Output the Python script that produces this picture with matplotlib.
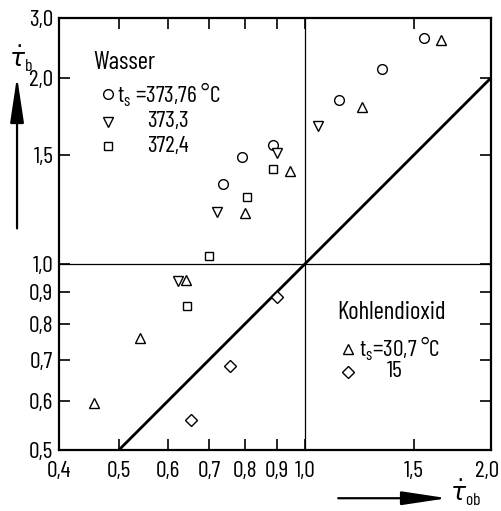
import matplotlib
matplotlib.use("Agg")
import matplotlib.pyplot as plt
import matplotlib.transforms as mtransforms

# Wasser
w_circle_x = [0.736, 0.792, 0.887, 1.137, 1.331, 1.556]
w_circle_y = [1.349, 1.490, 1.560, 1.840, 2.070, 2.320]
w_tridown_x = [0.624, 0.720, 0.902, 1.051]
w_tridown_y = [0.939, 1.212, 1.510, 1.670]
w_square_x = [0.645, 0.700, 0.805, 0.888]
w_square_y = [0.856, 1.030, 1.284, 1.425]

# Kohlendioxid
c_triup_x = [0.455, 0.541, 0.641, 0.800, 0.946, 1.235, 1.659]
c_triup_y = [0.596, 0.760, 0.942, 1.210, 1.415, 1.795, 2.300]
c_diamond_x = [0.654, 0.756, 0.900]
c_diamond_y = [0.559, 0.684, 0.885]

x_ticks = [0.4, 0.5, 0.6, 0.7, 0.8, 0.9, 1.0, 1.5, 2.0]
x_labels = ["0,4", "0,5", "0,6", "0,7", "0,8", "0,9", "1,0", "1,5", "2,0"]
y_ticks = [0.5, 0.6, 0.7, 0.8, 0.9, 1.0, 1.5, 2.0, 2.5]
y_labels = ["0,5", "0,6", "0,7", "0,8", "0,9", "1,0", "1,5", "2,0", "3,0"]

plt.rcParams["font.family"] = ["Barlow Condensed", "DejaVu Sans"]
plt.rcParams["mathtext.fontset"] = "dejavusans"

fig = plt.figure(figsize=(5.01, 5.11), dpi=100)
ax = fig.add_axes([0.1178, 0.1194, 0.8622, 0.8454])
ax.set_xscale("log")
ax.set_yscale("log")
ax.set_xlim(0.4, 2.0)
ax.set_ylim(0.5, 2.5)

ax.axvline(1.0, color="black", lw=0.9)
ax.axhline(1.0, color="black", lw=0.9)
ax.plot([0.5, 2.0], [0.5, 2.0], color="black", lw=2.0)

mk = dict(ls="none", mfc="white", mec="black", mew=1.0)
ax.plot(w_circle_x, w_circle_y, marker="o", ms=7, **mk)
ax.plot(w_tridown_x, w_tridown_y, marker="v", ms=7, **mk)
ax.plot(w_square_x, w_square_y, marker="s", ms=6, **mk)
ax.plot(c_triup_x, c_triup_y, marker="^", ms=7, **mk)
ax.plot(c_diamond_x, c_diamond_y, marker="D", ms=6, **mk)

ax.xaxis.set_minor_locator(matplotlib.ticker.NullLocator())
ax.yaxis.set_minor_locator(matplotlib.ticker.NullLocator())
ax.set_xticks(x_ticks)
ax.set_xticklabels(x_labels, fontsize=17)
ax.set_yticks(y_ticks)
ax.set_yticklabels(y_labels, fontsize=17)
ax.tick_params(direction="in", length=8, width=1.2, top=True, right=True)
ax.tick_params(axis="x", pad=8)
ax.tick_params(axis="y", pad=4)
for s in ax.spines.values():
    s.set_linewidth(1.6)

# keep the last x label inside the picture
last = ax.get_xticklabels()[-1]
last.set_transform(last.get_transform() + mtransforms.ScaledTranslation(-3 / 72, 0, fig.dpi_scale_trans))

# legend texts as drawn in the figure
ax.text(0.454, 2.12, "Wasser", fontsize=18, va="center")
ax.plot([0.48], [1.88], marker="o", ms=7, **mk)
ax.text(0.497, 1.88, r"t$_\mathregular{s}$ =373,76 °C", fontsize=17, va="center")
ax.plot([0.48], [1.70], marker="v", ms=7, **mk)
ax.text(0.555, 1.70, "373,3", fontsize=17, va="center")
ax.plot([0.48], [1.55], marker="s", ms=6, **mk)
ax.text(0.555, 1.55, "372,4", fontsize=17, va="center")

ax.text(1.127, 0.833, "Kohlendioxid", fontsize=18, va="center")
ax.plot([1.172], [0.728], marker="^", ms=7, **mk)
ax.text(1.225, 0.728, r"t$_\mathregular{s}$=30,7 °C", fontsize=17, va="center")
ax.plot([1.172], [0.669], marker="D", ms=6, **mk)
ax.text(1.357, 0.669, "15", fontsize=17, va="center")

# axis labels with arrows
fig.text(0.042, 0.885, r"$\dot{\tau}_\mathregular{b}$", fontsize=18, ha="center", va="center")
fig.text(0.93, 0.035, r"$\dot{\tau}_\mathregular{ob}$", fontsize=18, ha="center", va="center")
arrow = dict(arrowstyle="-|>,head_length=2.8,head_width=0.42", color="black",
             lw=1.6, mutation_scale=10, shrinkA=0, shrinkB=0)
ax.annotate("", xy=(0.034, 0.85), xytext=(0.034, 0.553), xycoords="figure fraction",
            arrowprops=arrow)
ax.annotate("", xy=(0.893, 0.025), xytext=(0.675, 0.025), xycoords="figure fraction",
            arrowprops=arrow)

fig.savefig("out.png", dpi=100)
